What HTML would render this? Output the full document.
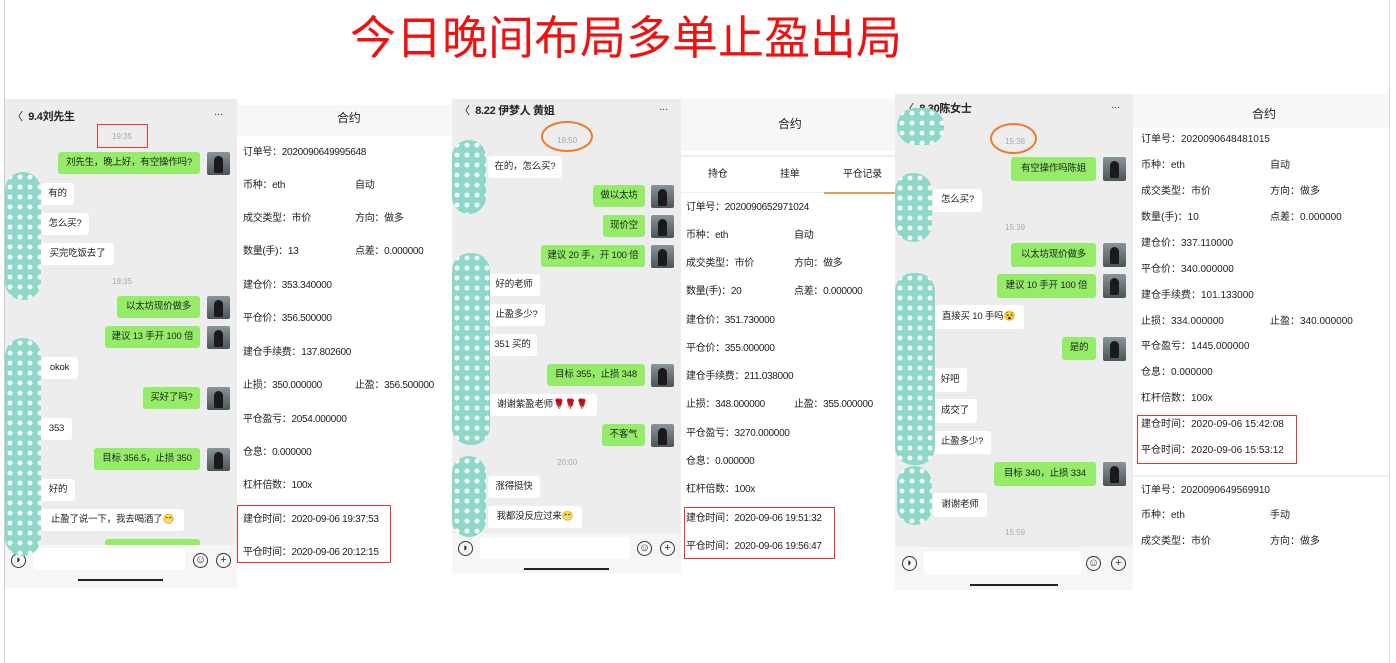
<!DOCTYPE html>
<html><head><meta charset="utf-8"><style>
body{margin:0;width:1396px;height:663px;background:#fff;position:relative;overflow:hidden;font-family:"Liberation Sans","Noto Sans CJK SC",sans-serif;}
.a{position:absolute}
.chat{position:absolute;background:#ededed}
.ct{position:absolute;background:#fff}
.t{position:absolute;font-size:10px;color:#222;white-space:nowrap;line-height:12px;letter-spacing:-0.3px}
.g,.w{position:absolute;height:22px;line-height:22px;font-size:9.5px;border-radius:3px;text-align:center;white-space:nowrap;color:#222;letter-spacing:-0.2px}
.g{background:#95ec69}
.w{background:#fff}
.av{position:absolute;width:23px;height:23px;background:linear-gradient(#8a9599,#4a5559);border-radius:2px}
.av:after{content:"";position:absolute;left:7px;top:4px;width:9px;height:17px;background:#1a1a1a;border-radius:5px 5px 2px 2px}
.blob{position:absolute;background-color:#8dd8c8;background-image:radial-gradient(circle,#fff 2.2px,transparent 2.6px);background-size:10px 10px;border-radius:18px}
.tm{position:absolute;font-size:8px;color:#aaa}
.rb{position:absolute;border:1px solid #e33}
.bar{position:absolute;height:2px;background:#222}
.in{position:absolute;background:#fff;height:22px;border-radius:3px}
.ic{position:absolute;width:13px;height:13px;border:1.3px solid #333;border-radius:50%;font-size:11px;line-height:13px;text-align:center;color:#333}
.c3 .t{letter-spacing:0}
</style></head><body>
<div class="a" style="left:4px;top:0;width:1px;height:663px;background:#ccc"></div>
<div class="a" style="left:1389px;top:0;width:1px;height:663px;background:#ddd"></div>
<div class="a" style="left:350px;top:8px;font-size:46px;color:#f01010;line-height:60px;white-space:nowrap">今日晚间布局多单止盈出局</div>

<!-- Panel 1 chat -->
<div class="chat" style="left:5px;top:99px;width:232px;height:489px"></div>
<div class="t" style="left:12px;top:111px;font-size:11px">〈&nbsp; <b>9.4刘先生</b></div>
<div class="t" style="left:214px;top:109px">···</div>
<div class="rb" style="left:97px;top:124px;width:49px;height:22px"></div>
<div class="tm" style="left:112px;top:132px">19:35</div>
<div class="g" style="left:58px;top:152px;width:142px">刘先生，晚上好，有空操作吗?</div><div class="av" style="left:207px;top:152px"></div>
<div class="w" style="left:41px;top:183px;width:33px">有的</div>
<div class="w" style="left:41px;top:213px;width:48px">怎么买?</div>
<div class="w" style="left:41px;top:243px;width:73px">买完吃饭去了</div>
<div class="tm" style="left:112px;top:277px">19:35</div>
<div class="g" style="left:117px;top:296px;width:83px">以太坊现价做多</div><div class="av" style="left:207px;top:296px"></div>
<div class="g" style="left:105px;top:326px;width:95px">建议 13 手开 100 倍</div><div class="av" style="left:207px;top:326px"></div>
<div class="w" style="left:41px;top:357px;width:37px">okok</div>
<div class="g" style="left:143px;top:387px;width:57px">买好了吗?</div><div class="av" style="left:207px;top:387px"></div>
<div class="w" style="left:41px;top:418px;width:31px">353</div>
<div class="g" style="left:94px;top:448px;width:106px">目标 356.5，止损 350</div><div class="av" style="left:207px;top:448px"></div>
<div class="w" style="left:41px;top:479px;width:34px">好的</div>
<div class="w" style="left:41px;top:509px;width:143px">止盈了说一下，我去喝酒了😁</div>
<div class="g" style="left:105px;top:539px;width:95px;height:8px"></div>
<div class="a" style="left:5px;top:545px;width:232px;height:43px;background:#f6f6f6"></div>
<div class="in" style="left:33px;top:548px;width:152px"></div>
<div class="ic" style="left:11px;top:553px">◗</div><div class="ic" style="left:193px;top:553px">☺</div><div class="ic" style="left:216px;top:553px">+</div>
<div class="bar" style="left:78px;top:579px;width:85px"></div>
<div class="blob" style="left:5px;top:172px;width:36px;height:128px"></div>
<div class="blob" style="left:5px;top:338px;width:36px;height:218px"></div>

<!-- Contract 1 -->
<div class="ct" style="left:237px;top:105px;width:215px;height:460px"></div>
<div class="a" style="left:237px;top:105px;width:215px;height:31px;background:#f7f7f7"></div>
<div class="t" style="left:337px;top:112px;font-size:12px">合约</div>
<div class="t" style="left:243px;top:147px">订单号：2020090649995648</div>
<div class="t" style="left:243px;top:180px">币种：eth</div><div class="t" style="left:355px;top:180px">自动</div>
<div class="t" style="left:243px;top:213px">成交类型：市价</div><div class="t" style="left:355px;top:213px">方向：做多</div>
<div class="t" style="left:243px;top:246px">数量(手)：13</div><div class="t" style="left:355px;top:246px">点差：0.000000</div>
<div class="t" style="left:243px;top:280px">建仓价：353.340000</div>
<div class="t" style="left:243px;top:313px">平仓价：356.500000</div>
<div class="t" style="left:243px;top:347px">建仓手续费：137.802600</div>
<div class="t" style="left:243px;top:380px">止损：350.000000</div><div class="t" style="left:355px;top:380px">止盈：356.500000</div>
<div class="t" style="left:243px;top:414px">平仓盈亏：2054.000000</div>
<div class="t" style="left:243px;top:447px">仓息：0.000000</div>
<div class="t" style="left:243px;top:480px">杠杆倍数：100x</div>
<div class="t" style="left:243px;top:514px">建仓时间：2020-09-06 19:37:53</div>
<div class="t" style="left:243px;top:547px">平仓时间：2020-09-06 20:12:15</div>
<div class="rb" style="left:237px;top:505px;width:152px;height:56px"></div>

<!-- Panel 2 chat -->
<div class="chat" style="left:452px;top:99px;width:229px;height:474px"></div>
<div class="t" style="left:459px;top:105px;font-size:11px">〈&nbsp; <b>8.22 伊梦人 黄姐</b></div>
<div class="t" style="left:659px;top:104px">···</div>
<div class="a" style="left:541px;top:121px;width:48px;height:27px;border:2.5px solid #f07a2a;border-radius:50%"></div>
<div class="tm" style="left:557px;top:136px">19:50</div>
<div class="w" style="left:488px;top:156px;width:74px">在的，怎么买?</div>
<div class="g" style="left:593px;top:185px;width:52px">做以太坊</div><div class="av" style="left:651px;top:185px"></div>
<div class="g" style="left:603px;top:215px;width:42px">现价空</div><div class="av" style="left:651px;top:215px"></div>
<div class="g" style="left:541px;top:245px;width:104px">建议 20 手，开 100 倍</div><div class="av" style="left:651px;top:245px"></div>
<div class="w" style="left:488px;top:274px;width:52px">好的老师</div>
<div class="w" style="left:488px;top:304px;width:57px">止盈多少?</div>
<div class="w" style="left:488px;top:334px;width:49px">351 买的</div>
<div class="g" style="left:547px;top:364px;width:98px">目标 355，止损 348</div><div class="av" style="left:651px;top:364px"></div>
<div class="w" style="left:488px;top:394px;width:109px">谢谢紫盈老师🌹🌹🌹</div>
<div class="g" style="left:602px;top:424px;width:43px">不客气</div><div class="av" style="left:651px;top:424px"></div>
<div class="tm" style="left:557px;top:458px">20:00</div>
<div class="w" style="left:488px;top:476px;width:52px">涨得挺快</div>
<div class="w" style="left:488px;top:506px;width:94px">我都没反应过来😁</div>
<div class="a" style="left:452px;top:533px;width:229px;height:40px;background:#f6f6f6"></div>
<div class="in" style="left:480px;top:537px;width:150px"></div>
<div class="ic" style="left:458px;top:541px">◗</div><div class="ic" style="left:637px;top:541px">☺</div><div class="ic" style="left:660px;top:541px">+</div>
<div class="bar" style="left:524px;top:568px;width:85px"></div>
<div class="blob" style="left:452px;top:140px;width:34px;height:74px"></div>
<div class="blob" style="left:452px;top:253px;width:38px;height:192px"></div>
<div class="blob" style="left:452px;top:456px;width:34px;height:81px"></div>

<!-- Contract 2 -->
<div class="ct" style="left:681px;top:99px;width:214px;height:490px"></div>
<div class="a" style="left:681px;top:99px;width:214px;height:52px;background:#f7f7f7"></div>
<div class="t" style="left:778px;top:118px;font-size:12px">合约</div>
<div class="a" style="left:681px;top:155px;width:214px;height:2px;background:#eee"></div>
<div class="t" style="left:708px;top:169px">持仓</div><div class="t" style="left:780px;top:169px">挂单</div><div class="t" style="left:843px;top:169px">平仓记录</div>
<div class="a" style="left:681px;top:192px;width:214px;height:1px;background:#eee"></div>
<div class="a" style="left:824px;top:192px;width:71px;height:2px;background:#e0a050"></div>
<div class="t" style="left:686px;top:202px">订单号：2020090652971024</div>
<div class="t" style="left:686px;top:230px">币种：eth</div><div class="t" style="left:794px;top:230px">自动</div>
<div class="t" style="left:686px;top:258px">成交类型：市价</div><div class="t" style="left:794px;top:258px">方向：做多</div>
<div class="t" style="left:686px;top:286px">数量(手)：20</div><div class="t" style="left:794px;top:286px">点差：0.000000</div>
<div class="t" style="left:686px;top:315px">建仓价：351.730000</div>
<div class="t" style="left:686px;top:343px">平仓价：355.000000</div>
<div class="t" style="left:686px;top:371px">建仓手续费：211.038000</div>
<div class="t" style="left:686px;top:399px">止损：348.000000</div><div class="t" style="left:794px;top:399px">止盈：355.000000</div>
<div class="t" style="left:686px;top:428px">平仓盈亏：3270.000000</div>
<div class="t" style="left:686px;top:456px">仓息：0.000000</div>
<div class="t" style="left:686px;top:484px">杠杆倍数：100x</div>
<div class="t" style="left:686px;top:513px">建仓时间：2020-09-06 19:51:32</div>
<div class="t" style="left:686px;top:541px">平仓时间：2020-09-06 19:56:47</div>
<div class="rb" style="left:684px;top:507px;width:149px;height:50px"></div>

<!-- Panel 3 chat -->
<div class="chat" style="left:895px;top:94px;width:238px;height:496px"></div>
<div class="t" style="left:903px;top:103px;font-size:11px">〈&nbsp; <b>8.30陈女士</b></div>
<div class="t" style="left:1111px;top:102px">···</div>
<div class="a" style="left:990px;top:123px;width:43px;height:27px;border:2.5px solid #f07a2a;border-radius:50%"></div>
<div class="tm" style="left:1005px;top:137px">15:38</div>
<div class="g" style="left:1011px;top:157px;width:85px;height:24px;line-height:24px">有空操作吗陈姐</div><div class="av" style="left:1103px;top:157px;height:24px"></div>
<div class="w" style="left:933px;top:189px;width:49px;height:23px">怎么买?</div>
<div class="tm" style="left:1005px;top:223px">15:39</div>
<div class="g" style="left:1011px;top:243px;width:85px;height:24px;line-height:24px">以太坊现价做多</div><div class="av" style="left:1103px;top:243px;height:24px"></div>
<div class="g" style="left:997px;top:274px;width:99px;height:24px;line-height:24px">建议 10 手开 100 倍</div><div class="av" style="left:1103px;top:274px;height:24px"></div>
<div class="w" style="left:933px;top:305px;width:91px;height:24px;line-height:24px">直接买 10 手吗😵</div>
<div class="g" style="left:1062px;top:337px;width:34px;height:23px">是的</div><div class="av" style="left:1103px;top:337px;height:24px"></div>
<div class="w" style="left:933px;top:368px;width:34px;height:24px;line-height:24px">好吧</div>
<div class="w" style="left:933px;top:399px;width:44px;height:24px;line-height:24px">成交了</div>
<div class="w" style="left:933px;top:431px;width:58px;height:23px">止盈多少?</div>
<div class="g" style="left:994px;top:462px;width:102px;height:24px;line-height:24px">目标 340，止损 334</div><div class="av" style="left:1103px;top:462px;height:24px"></div>
<div class="w" style="left:933px;top:493px;width:54px;height:24px;line-height:24px">谢谢老师</div>
<div class="tm" style="left:1005px;top:528px">15:59</div>
<div class="a" style="left:895px;top:547px;width:238px;height:43px;background:#f6f6f6"></div>
<div class="in" style="left:924px;top:551px;width:157px;height:24px"></div>
<div class="ic" style="left:902px;top:556px">◗</div><div class="ic" style="left:1086px;top:556px">☺</div><div class="ic" style="left:1111px;top:556px">+</div>
<div class="bar" style="left:970px;top:584px;width:88px"></div>
<div class="blob" style="left:897px;top:108px;width:47px;height:37px;border-radius:18px"></div>
<div class="blob" style="left:895px;top:173px;width:37px;height:69px"></div>
<div class="blob" style="left:895px;top:273px;width:40px;height:192px"></div>
<div class="blob" style="left:897px;top:466px;width:35px;height:59px"></div>

<!-- Contract 3 -->
<div class="c3">
<div class="ct" style="left:1133px;top:94px;width:256px;height:500px"></div>
<div class="a" style="left:1133px;top:94px;width:256px;height:34px;background:#f7f7f7"></div>
<div class="t" style="left:1252px;top:108px;font-size:12px">合约</div>
<div class="t" style="left:1141px;top:134px">订单号：2020090648481015</div>
<div class="t" style="left:1141px;top:160px">币种：eth</div><div class="t" style="left:1270px;top:160px">自动</div>
<div class="t" style="left:1141px;top:186px">成交类型：市价</div><div class="t" style="left:1270px;top:186px">方向：做多</div>
<div class="t" style="left:1141px;top:212px">数量(手)：10</div><div class="t" style="left:1270px;top:212px">点差：0.000000</div>
<div class="t" style="left:1141px;top:238px">建仓价：337.110000</div>
<div class="t" style="left:1141px;top:264px">平仓价：340.000000</div>
<div class="t" style="left:1141px;top:290px">建仓手续费：101.133000</div>
<div class="t" style="left:1141px;top:316px">止损：334.000000</div><div class="t" style="left:1270px;top:316px">止盈：340.000000</div>
<div class="t" style="left:1141px;top:341px">平仓盈亏：1445.000000</div>
<div class="t" style="left:1141px;top:367px">仓息：0.000000</div>
<div class="t" style="left:1141px;top:393px">杠杆倍数：100x</div>
<div class="t" style="left:1141px;top:419px">建仓时间：2020-09-06 15:42:08</div>
<div class="t" style="left:1141px;top:445px">平仓时间：2020-09-06 15:53:12</div>
<div class="rb" style="left:1137px;top:415px;width:158px;height:47px"></div>
<div class="a" style="left:1133px;top:475px;width:256px;height:2px;background:#f0f0f0"></div>
<div class="t" style="left:1141px;top:485px">订单号：2020090649569910</div>
<div class="t" style="left:1141px;top:510px">币种：eth</div><div class="t" style="left:1270px;top:510px">手动</div>
<div class="t" style="left:1141px;top:536px">成交类型：市价</div><div class="t" style="left:1270px;top:536px">方向：做多</div>
</div>
</body></html>
